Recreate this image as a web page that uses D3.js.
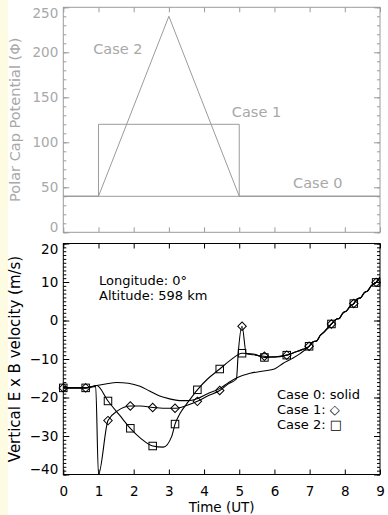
<!DOCTYPE html>
<html>
<head>
  <meta charset="utf-8">
  <script src="https://d3js.org/d3.v7.min.js"></script>
  <style>
    body { margin: 0; background: #fff; }
    svg text { font-family: "DejaVu Sans", sans-serif; }
  </style>
</head>
<body>
<div id="chart"></div>
<script>
// ---- top panel: polar cap potential for the three cases
var potCase0 = [[0, 40], [9, 40]];
var potCase1 = [[0, 40], [1, 40], [1, 120], [5, 120], [5, 40], [9, 40]];
var potCase2 = [[0, 40], [1, 40], [3, 240], [5, 40], [9, 40]];
var potLabels = [["Case 2", 0.85, 198], ["Case 1", 4.79, 128], ["Case 0", 6.53, 49]];
var potTicks = [0, 50, 100, 150, 200, 250];

// ---- bottom panel: vertical E x B drift (m/s) vs time (UT)
// tail shared by all cases once they converge
var tail = [[6.985, -6.7], [7.1, -5.5], [7.2, -5.3], [7.3, -3.9], [7.4, -3.1], [7.5, -2.1],
  [7.62, -0.9], [7.75, 0.3], [7.85, 0.6], [7.95, 2.0], [8.05, 2.5], [8.15, 3.7], [8.255, 4.4],
  [8.35, 5.6], [8.45, 5.9], [8.55, 7.2], [8.65, 7.7], [8.75, 9.0], [8.89, 9.9], [9.0, 11.3]];

var case0 = [[0, -17.5], [0.635, -17.5], [0.95, -16.9], [1.2, -16.5], [1.52, -16.1], [1.85, -16.3],
  [2.18, -17.1], [2.45, -18.3], [2.74, -19.6], [3.0, -20.3], [3.3, -20.8], [3.55, -20.8],
  [3.8, -20.3], [4.1, -19.0], [4.445, -17.7], [4.7, -16.1], [4.95, -14.8], [5.31, -13.7],
  [5.7, -13.1], [6.0, -12.6], [6.25, -11.1], [6.5, -9.9], [6.73, -8.6], [6.985, -6.7]];

var case1 = [[0, -17.5], [0.635, -17.5], [0.92, -17.1], [1.0, -40], [1.27, -26.0], [1.55, -23.4],
  [1.905, -22.2], [2.2, -22.2], [2.54, -22.6], [2.9, -22.8], [3.175, -22.8], [3.5, -22.1],
  [3.81, -21.0], [4.1, -19.6], [4.445, -18.2], [4.7, -16.4], [4.92, -15.2], [4.97, -8.6],
  [5.08, -1.5], [5.2, -8.6], [5.4, -8.9], [5.715, -9.3], [6.0, -9.5], [6.35, -9.0],
  [6.6, -8.2], [6.8, -7.5], [6.985, -6.7]];

var case2 = [[0, -17.5], [0.635, -17.5], [0.95, -16.9], [1.27, -20.9], [1.6, -24.6], [1.905, -28.0],
  [2.2, -30.6], [2.54, -32.6], [2.84, -32.9], [3.08, -30.1], [3.175, -26.9], [3.32, -24.1],
  [3.56, -21.0], [3.81, -18.0], [4.1, -15.2], [4.445, -12.6], [4.75, -10.3], [5.08, -8.5],
  [5.4, -8.7], [5.715, -9.6], [6.0, -9.4], [6.35, -9.0], [6.6, -8.2], [6.8, -7.5], [6.985, -6.7]];

// symbols sit every 0.635 h
var markerT = [0, 0.635, 1.27, 1.905, 2.54, 3.175, 3.81, 4.445, 5.08, 5.715, 6.35, 6.985, 7.62, 8.255, 8.89];
var case1Marks = [-17.5, -17.5, -26.0, -22.2, -22.6, -22.8, -21.0, -18.2, -1.5, -9.3, -9.0, -6.7, -0.9, 4.4, 9.9];
var case2Marks = [-17.5, -17.5, -20.9, -28.0, -32.6, -26.9, -18.0, -12.6, -8.5, -9.6, -9.0, -6.7, -0.9, 4.4, 9.9];
var velTicks = [-40, -30, -20, -10, 0, 10, 20];
var timeTicks = [0, 1, 2, 3, 4, 5, 6, 7, 8, 9];

var W = 388, H = 515;
var svg = d3.select("#chart").append("svg").attr("width", W).attr("height", H);

// pale yellow strip on the left edge
svg.append("rect").attr("x", 0).attr("y", 0).attr("width", 8).attr("height", H).attr("fill", "#fefbe3");

var x = d3.scaleLinear().domain([0, 9]).range([63.3, 380]);
var yTop = d3.scaleLinear().domain([0, 250]).range([232.3, 7.3]);
var yBot = d3.scaleLinear().domain([-40, 20]).range([474.5, 243.5]);

var gray = "#9c9c9c", grayText = "#a8a8a8";

function frame(y, color, majors, minors, labelColor, showX) {
  var g = svg.append("g").attr("color", color);
  var y0 = y.range()[0], y1 = y.range()[1];
  var lo = y.domain()[0], hi = y.domain()[1];
  // left axis, inward ticks
  var left = g.append("g").attr("transform", "translate(" + x(0) + ",0)")
    .call(d3.axisLeft(y).tickValues(majors).tickSize(-6).tickPadding(5));
  // end labels are pulled inside the frame
  left.selectAll(".tick text").attr("dy", function (d) {
    return d === lo ? "-0.05em" : d === hi ? "0.72em" : "0.32em";
  });
  g.append("g").attr("transform", "translate(" + x(0) + ",0)")
    .call(d3.axisLeft(y).tickValues(minors).tickSize(-3).tickFormat(""));
  // right axis
  g.append("g").attr("transform", "translate(" + x(9) + ",0)")
    .call(d3.axisRight(y).tickValues(majors).tickSize(-6).tickFormat(""));
  g.append("g").attr("transform", "translate(" + x(9) + ",0)")
    .call(d3.axisRight(y).tickValues(minors).tickSize(-3).tickFormat(""));
  // bottom and top axes
  var bx = d3.axisBottom(x).tickValues(timeTicks).tickSize(-5).tickPadding(12);
  if (!showX) bx.tickFormat("");
  g.append("g").attr("transform", "translate(0," + y0 + ")").call(bx);
  g.append("g").attr("transform", "translate(0," + y1 + ")")
    .call(d3.axisTop(x).tickValues(timeTicks).tickSize(-5).tickFormat(""));
  g.selectAll(".domain").remove();
  g.selectAll("text").attr("fill", labelColor).style("font-size", "13.5px")
    .style("font-family", "DejaVu Sans, sans-serif");
  g.append("rect").attr("x", x(0)).attr("y", y1).attr("width", x(9) - x(0)).attr("height", y0 - y1)
    .attr("fill", "none").attr("stroke", color).attr("stroke-width", 1);
  return g;
}

// ---------- top panel
frame(yTop, gray, potTicks, d3.range(0, 251, 10), grayText, false);

var lineTop = d3.line().x(function (d) { return x(d[0]); }).y(function (d) { return yTop(d[1]); });
[potCase0, potCase1, potCase2].forEach(function (s) {
  svg.append("path").datum(s).attr("d", lineTop)
    .attr("fill", "none").attr("stroke", gray).attr("stroke-width", 1);
});

svg.selectAll(".potlab").data(potLabels).enter().append("text")
  .attr("x", function (d) { return x(d[1]); })
  .attr("y", function (d) { return yTop(d[2]); })
  .attr("fill", grayText).style("font-size", "14.5px")
  .text(function (d) { return d[0]; });

svg.append("text")
  .attr("transform", "translate(20," + (yTop(125)) + ") rotate(-90)")
  .attr("text-anchor", "middle").attr("fill", grayText).style("font-size", "14.5px")
  .text("Polar Cap Potential (\u03A6)");

// ---------- bottom panel
frame(yBot, "#000", velTicks, d3.range(-40, 21, 1), "#000", true);

svg.append("clipPath").attr("id", "clipBot").append("rect")
  .attr("x", x(0)).attr("y", yBot(20)).attr("width", x(9) - x(0)).attr("height", yBot(-40) - yBot(20) + 1);

var lineBot = d3.line().curve(d3.curveMonotoneX)
  .x(function (d) { return x(d[0]); }).y(function (d) { return yBot(d[1]); });

[case0, case1, case2].forEach(function (s) {
  svg.append("path").datum(s.concat(tail.slice(1))).attr("d", lineBot)
    .attr("clip-path", "url(#clipBot)")
    .attr("fill", "none").attr("stroke", "#000").attr("stroke-width", 1.1);
});

// diamonds for case 1
svg.selectAll(".dia").data(markerT).enter().append("path")
  .attr("d", d3.symbol().type(d3.symbolSquare).size(36))
  .attr("transform", function (t, i) { return "translate(" + x(t) + "," + yBot(case1Marks[i]) + ") rotate(45)"; })
  .attr("fill", "none").attr("stroke", "#000").attr("stroke-width", 1);

// squares for case 2
svg.selectAll(".sq").data(markerT).enter().append("rect")
  .attr("x", function (t) { return x(t) - 3.75; })
  .attr("y", function (t, i) { return yBot(case2Marks[i]) - 3.75; })
  .attr("width", 7.5).attr("height", 7.5)
  .attr("fill", "none").attr("stroke", "#000").attr("stroke-width", 1);

svg.append("text").attr("x", 99).attr("y", 285).style("font-size", "13px").text("Longitude: 0\u00B0");
svg.append("text").attr("x", 99).attr("y", 300).style("font-size", "13px").text("Altitude: 598 km");

var legend = ["Case 0: solid", "Case 1: \u25C7", "Case 2: \u25A1"];
svg.selectAll(".leg").data(legend).enter().append("text")
  .attr("x", 277).attr("y", function (d, i) { return 399 + i * 15; })
  .style("font-size", "13px").text(function (d) { return d; });

svg.append("text")
  .attr("transform", "translate(20," + yBot(-10) + ") rotate(-90)")
  .attr("text-anchor", "middle").style("font-size", "15px")
  .text("Vertical E x B velocity (m/s)");

svg.append("text").attr("x", x(4.5)).attr("y", 512)
  .attr("text-anchor", "middle").style("font-size", "13.5px").text("Time (UT)");
</script>
</body>
</html>
